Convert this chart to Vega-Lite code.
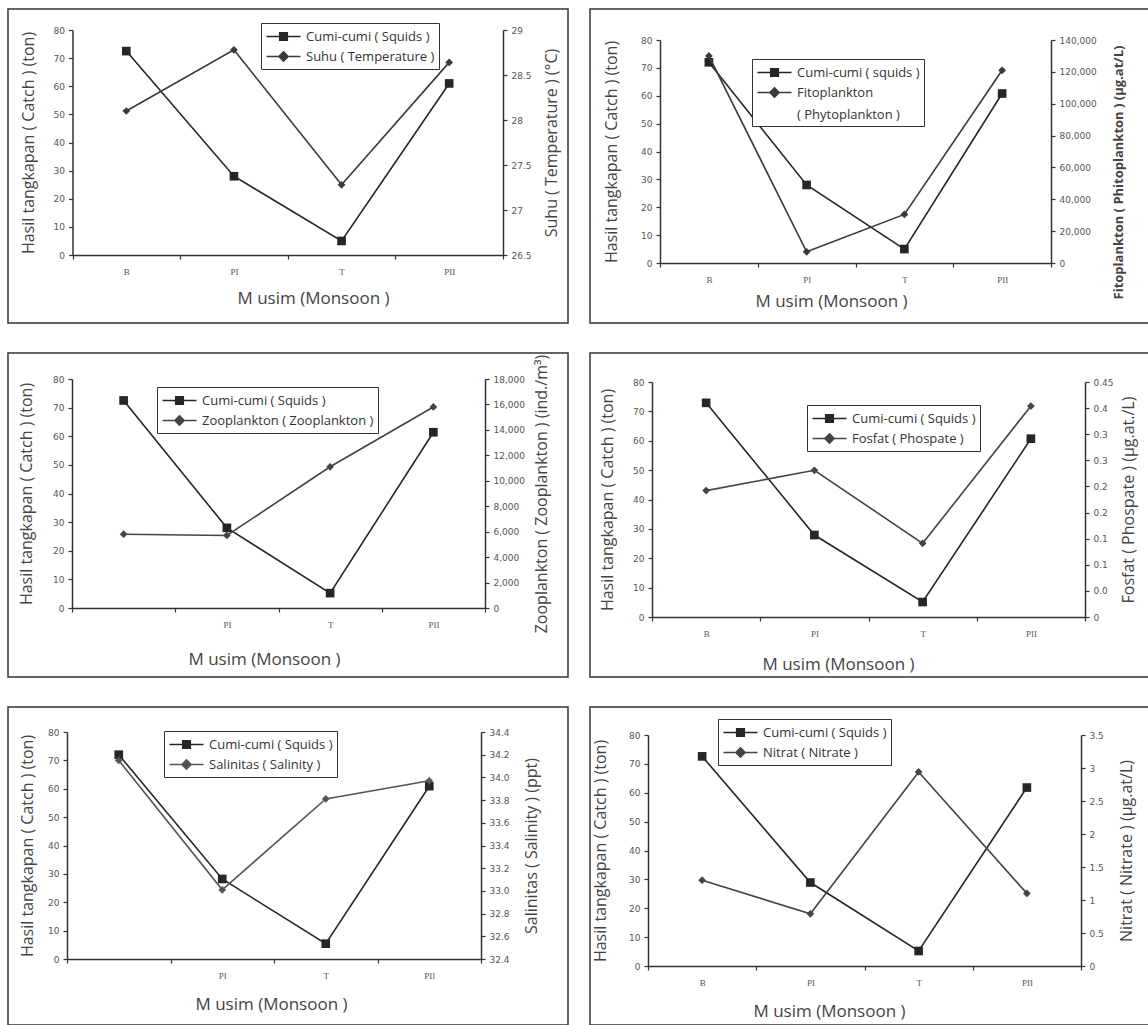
{
  "$schema": "https://vega.github.io/schema/vega-lite/v6.json",
  "background": "white",
  "padding": {"left": 7, "top": 8, "right": 0, "bottom": 0},
  "autosize": {"type": "pad"},
  "columns": 2,
  "spacing": {"row": 30, "column": 22},
  "align": "each",
  "bounds": "flush",
  "resolve": {"scale": {"color": "independent"}, "legend": {"color": "independent"}},
  "config": {
    "font": "Open Sans",
    "view": {"stroke": "#333", "strokeWidth": 1.5},
    "axis": {"grid": false, "domainColor": "#333", "domainWidth": 1.5, "tickColor": "#333", "tickWidth": 1.2, "tickSize": 4, "labelFont": "DejaVu Sans", "labelFontSize": 9, "labelColor": "#555", "labelPadding": 4, "labelOverlap": false, "titleFont": "Open Sans", "titleFontSize": 16, "titleFontWeight": "normal", "titleColor": "#444"},
    "axisX": {"labelPadding": 8, "labelAngle": 0, "labelFont": "Liberation Serif", "labelFontSize": 9, "tickBand": "extent", "titleFontSize": 17, "titleBaseline": "middle"},
    "axisY": {"titleBaseline": "middle", "titleAngle": 270},
    "legend": {"labelFont": "Open Sans", "labelFontSize": 13, "labelColor": "#333", "strokeColor": "#333", "fillColor": "white", "padding": 4, "symbolSize": 289, "symbolStrokeWidth": 1.5, "symbolOffset": 9, "labelOffset": 13, "rowPadding": 3, "labelLimit": 300},
    "line": {"strokeWidth": 1.6}
  },
  "datasets": {
    "temp": [
      {"season": "B", "catch": 72.5, "param": 28.1},
      {"season": "PI", "catch": 28, "param": 28.78},
      {"season": "T", "catch": 5, "param": 27.28},
      {"season": "PII", "catch": 61, "param": 28.64}
    ],
    "phyto": [
      {"season": "B", "catch": 72, "param": 130000},
      {"season": "PI", "catch": 28, "param": 7000},
      {"season": "T", "catch": 5, "param": 30500},
      {"season": "PII", "catch": 60.8, "param": 121000}
    ],
    "zoo": [
      {"season": "B", "catch": 72.5, "param": 5800},
      {"season": "PI", "catch": 28, "param": 5700},
      {"season": "T", "catch": 5.2, "param": 11100},
      {"season": "PII", "catch": 61.4, "param": 15800}
    ],
    "phos": [
      {"season": "B", "catch": 72.9, "param": 0.242},
      {"season": "PI", "catch": 27.9, "param": 0.281},
      {"season": "T", "catch": 5.1, "param": 0.141},
      {"season": "PII", "catch": 60.7, "param": 0.404}
    ],
    "sal": [
      {"season": "B", "catch": 72, "param": 34.15},
      {"season": "PI", "catch": 28.2, "param": 33.01},
      {"season": "T", "catch": 5.4, "param": 33.81},
      {"season": "PII", "catch": 60.9, "param": 33.97}
    ],
    "nit": [
      {"season": "B", "catch": 72.6, "param": 1.3},
      {"season": "PI", "catch": 28.9, "param": 0.79},
      {"season": "T", "catch": 5.2, "param": 2.94},
      {"season": "PII", "catch": 61.8, "param": 1.1}
    ]
  },
  "concat": [
    {
      "width": 560, "height": 314,
      "data": {"name": "temp"},
      "encoding": {
        "x": {"field": "season", "type": "ordinal", "sort": ["B", "PI", "T", "PII"],
          "scale": {"type": "band", "range": [64.5, 495], "paddingInner": 0, "paddingOuter": 0},
          "axis": {"title": "M usim (Monsoon )", "offset": -68, "titleX": 305, "titleY": 43}}
      },
      "layer": [
        {"mark": {"type": "line", "point": {"shape": "square", "size": 75, "filled": true}},
          "encoding": {
            "y": {"field": "catch", "type": "quantitative", "scale": {"domain": [0, 80], "range": [246, 21], "nice": false, "zero": false},
              "axis": {"title": "Hasil tangkapan ( Catch )  (ton)", "values": [0, 10, 20, 30, 40, 50, 60, 70, 80], "offset": -64.5, "titleX": -44}},
            "color": {"datum": "Cumi-cumi ( Squids )", "type": "nominal",
              "scale": {"domain": ["Cumi-cumi ( Squids )", "Suhu ( Temperature )"], "range": ["#262626", "#3a3a3a"]},
              "legend": {"title": null, "orient": "none", "legendX": 253, "legendY": 14,
                "encoding": {"symbols": {"shape": {"value": {"expr": "indexof(datum.value, 'Cumi') >= 0 ? 'M-2,0H2M-0.45,-0.45H0.45V0.45H-0.45Z' : 'M-2,0H2M0,-0.55L0.55,0L0,0.55L-0.55,0Z'"}}, "fill": {"value": "#333"}, "stroke": {"value": "#333"}, "size": {"value": 289}, "strokeWidth": {"value": 1.5}}}}}
          }},
        {"mark": {"type": "line", "point": {"shape": "diamond", "size": 60, "filled": true}},
          "encoding": {
            "y": {"field": "param", "type": "quantitative", "scale": {"domain": [26.5, 29], "range": [246, 21], "nice": false, "zero": false},
              "axis": {"orient": "right", "title": "Suhu ( Temperature )  (°C)", "values": [26.5, 27, 27.5, 28, 28.5, 29], "format": "~f", "offset": -65, "titleX": 48}},
            "color": {"datum": "Suhu ( Temperature )", "type": "nominal"}
          }}
      ],
      "resolve": {"scale": {"y": "independent"}, "axis": {"y": "independent"}}
    },
    {
      "width": 559, "height": 314,
      "data": {"name": "phyto"},
      "encoding": {
        "x": {"field": "season", "type": "ordinal", "sort": ["B", "PI", "T", "PII"],
          "scale": {"type": "band", "range": [70, 461], "paddingInner": 0, "paddingOuter": 0},
          "axis": {"title": "M usim (Monsoon )", "offset": -60, "titleX": 241, "titleY": 38}}
      },
      "layer": [
        {"mark": {"type": "line", "point": {"shape": "square", "size": 75, "filled": true}},
          "encoding": {
            "y": {"field": "catch", "type": "quantitative", "scale": {"domain": [0, 80], "range": [254, 31], "nice": false, "zero": false},
              "axis": {"title": "Hasil tangkapan ( Catch )  (ton)", "values": [0, 10, 20, 30, 40, 50, 60, 70, 80], "offset": -70, "titleX": -49}},
            "color": {"datum": "Cumi-cumi ( squids )", "type": "nominal",
              "scale": {"domain": ["Cumi-cumi ( squids )", "Fitoplankton ( Phytoplankton )"], "range": ["#262626", "#3a3a3a"]},
              "legend": {"title": null, "orient": "none", "legendX": 162, "legendY": 50,
                "labelExpr": "datum.label == 'Fitoplankton ( Phytoplankton )' ? ['Fitoplankton', '( Phytoplankton )'] : datum.label",
                "encoding": {"labels": {"lineHeight": {"value": 22}}, "symbols": {"shape": {"value": {"expr": "indexof(datum.value, 'Cumi') >= 0 ? 'M-2,0H2M-0.45,-0.45H0.45V0.45H-0.45Z' : 'M-2,0H2M0,-0.55L0.55,0L0,0.55L-0.55,0Z'"}}, "fill": {"value": "#333"}, "stroke": {"value": "#333"}, "size": {"value": 289}, "strokeWidth": {"value": 1.5}}}}}
          }},
        {"mark": {"type": "line", "point": {"shape": "diamond", "size": 60, "filled": true}},
          "encoding": {
            "y": {"field": "param", "type": "quantitative", "scale": {"domain": [0, 140000], "range": [254, 31], "nice": false, "zero": false},
              "axis": {"orient": "right", "title": "Fitoplankton ( Phitoplankton ) (µg.at/L)", "titleFontWeight": "bold", "titleFontSize": 13, "values": [0, 20000, 40000, 60000, 80000, 100000, 120000, 140000], "format": ",.0f", "offset": -98, "titleX": 67, "titleY": 163}},
            "color": {"datum": "Fitoplankton ( Phytoplankton )", "type": "nominal"}
          }}
      ],
      "resolve": {"scale": {"y": "independent"}, "axis": {"y": "independent"}}
    },
    {
      "width": 560, "height": 324,
      "data": {"name": "zoo"},
      "encoding": {
        "x": {"field": "season", "type": "ordinal", "sort": ["B", "PI", "T", "PII"],
          "scale": {"type": "band", "range": [64, 477], "paddingInner": 0, "paddingOuter": 0},
          "axis": {"title": "M usim (Monsoon )", "offset": -69, "titleX": 256, "titleY": 51, "labelExpr": "datum.value == 'B' ? '' : datum.value"}}
      },
      "layer": [
        {"mark": {"type": "line", "point": {"shape": "square", "size": 75, "filled": true}},
          "encoding": {
            "y": {"field": "catch", "type": "quantitative", "scale": {"domain": [0, 80], "range": [255, 26], "nice": false, "zero": false},
              "axis": {"title": "Hasil tangkapan ( Catch )  (ton)", "values": [0, 10, 20, 30, 40, 50, 60, 70, 80], "offset": -64, "titleX": -46}},
            "color": {"datum": "Cumi-cumi ( Squids )", "type": "nominal",
              "scale": {"domain": ["Cumi-cumi ( Squids )", "Zooplankton ( Zooplankton )"], "range": ["#262626", "#444444"]},
              "legend": {"title": null, "orient": "none", "legendX": 149, "legendY": 34,
                "encoding": {"symbols": {"shape": {"value": {"expr": "indexof(datum.value, 'Cumi') >= 0 ? 'M-2,0H2M-0.45,-0.45H0.45V0.45H-0.45Z' : 'M-2,0H2M0,-0.55L0.55,0L0,0.55L-0.55,0Z'"}}, "fill": {"value": "#333"}, "stroke": {"value": "#333"}, "size": {"value": 289}, "strokeWidth": {"value": 1.5}}}}}
          }},
        {"mark": {"type": "line", "point": {"shape": "diamond", "size": 60, "filled": true}},
          "encoding": {
            "y": {"field": "param", "type": "quantitative", "scale": {"domain": [0, 18000], "range": [255, 26], "nice": false, "zero": false},
              "axis": {"orient": "right", "title": "Zooplankton ( Zooplankton )  (ind./m³)", "values": [0, 2000, 4000, 6000, 8000, 10000, 12000, 14000, 16000, 18000], "format": ",.0f", "offset": -83, "titleX": 56}},
            "color": {"datum": "Zooplankton ( Zooplankton )", "type": "nominal"}
          }}
      ],
      "resolve": {"scale": {"y": "independent"}, "axis": {"y": "independent"}}
    },
    {
      "width": 559, "height": 324,
      "data": {"name": "phos"},
      "encoding": {
        "x": {"field": "season", "type": "ordinal", "sort": ["B", "PI", "T", "PII"],
          "scale": {"type": "band", "range": [62, 495], "paddingInner": 0, "paddingOuter": 0},
          "axis": {"title": "M usim (Monsoon )", "offset": -60, "titleX": 248, "titleY": 47}}
      },
      "layer": [
        {"mark": {"type": "line", "point": {"shape": "square", "size": 75, "filled": true}},
          "encoding": {
            "y": {"field": "catch", "type": "quantitative", "scale": {"domain": [0, 80], "range": [264, 29], "nice": false, "zero": false},
              "axis": {"title": "Hasil tangkapan ( Catch )  (ton)", "values": [0, 10, 20, 30, 40, 50, 60, 70, 80], "offset": -62, "titleX": -45}},
            "color": {"datum": "Cumi-cumi ( Squids )", "type": "nominal",
              "scale": {"domain": ["Cumi-cumi ( Squids )", "Fosfat ( Phospate )"], "range": ["#262626", "#444444"]},
              "legend": {"title": null, "orient": "none", "legendX": 217, "legendY": 52,
                "encoding": {"symbols": {"shape": {"value": {"expr": "indexof(datum.value, 'Cumi') >= 0 ? 'M-2,0H2M-0.45,-0.45H0.45V0.45H-0.45Z' : 'M-2,0H2M0,-0.55L0.55,0L0,0.55L-0.55,0Z'"}}, "fill": {"value": "#333"}, "stroke": {"value": "#333"}, "size": {"value": 289}, "strokeWidth": {"value": 1.5}}}}}
          }},
        {"mark": {"type": "line", "point": {"shape": "diamond", "size": 60, "filled": true}},
          "encoding": {
            "y": {"field": "param", "type": "quantitative", "scale": {"domain": [0, 0.45], "range": [264, 29], "nice": false, "zero": false},
              "axis": {"orient": "right", "title": "Fosfat ( Phospate ) (µg.at./L)", "values": [0, 0.05, 0.1, 0.15, 0.2, 0.25, 0.3, 0.35, 0.4, 0.45],
                "labelExpr": "datum.value > 0.44 ? '0.45' : datum.value == 0 ? '0' : format(floor(datum.value * 10 + 0.001) / 10, '.1f')", "offset": -64, "titleX": 43}},
            "color": {"datum": "Fosfat ( Phospate )", "type": "nominal"}
          }}
      ],
      "resolve": {"scale": {"y": "independent"}, "axis": {"y": "independent"}}
    },
    {
      "width": 560, "height": 318,
      "data": {"name": "sal"},
      "encoding": {
        "x": {"field": "season", "type": "ordinal", "sort": ["B", "PI", "T", "PII"],
          "scale": {"type": "band", "range": [59, 473], "paddingInner": 0, "paddingOuter": 0},
          "axis": {"title": "M usim (Monsoon )", "offset": -66, "titleX": 263, "titleY": 45, "labelExpr": "datum.value == 'B' ? '' : datum.value"}}
      },
      "layer": [
        {"mark": {"type": "line", "point": {"shape": "square", "size": 75, "filled": true}},
          "encoding": {
            "y": {"field": "catch", "type": "quantitative", "scale": {"domain": [0, 80], "range": [252, 25], "nice": false, "zero": false},
              "axis": {"title": "Hasil tangkapan ( Catch )  (ton)", "values": [0, 10, 20, 30, 40, 50, 60, 70, 80], "offset": -59, "titleX": -40}},
            "color": {"datum": "Cumi-cumi ( Squids )", "type": "nominal",
              "scale": {"domain": ["Cumi-cumi ( Squids )", "Salinitas ( Salinity )"], "range": ["#262626", "#555555"]},
              "legend": {"title": null, "orient": "none", "legendX": 156, "legendY": 24,
                "encoding": {"symbols": {"shape": {"value": {"expr": "indexof(datum.value, 'Cumi') >= 0 ? 'M-2,0H2M-0.45,-0.45H0.45V0.45H-0.45Z' : 'M-2,0H2M0,-0.55L0.55,0L0,0.55L-0.55,0Z'"}}, "fill": {"value": "#333"}, "stroke": {"value": "#333"}, "size": {"value": 289}, "strokeWidth": {"value": 1.5}}}}}
          }},
        {"mark": {"type": "line", "point": {"shape": "diamond", "size": 60, "filled": true}},
          "encoding": {
            "y": {"field": "param", "type": "quantitative", "scale": {"domain": [32.4, 34.4], "range": [252, 25], "nice": false, "zero": false},
              "axis": {"orient": "right", "title": "Salinitas ( Salinity )  (ppt)", "values": [32.4, 32.6, 32.8, 33.0, 33.2, 33.4, 33.6, 33.8, 34.0, 34.2, 34.4], "format": ".1f", "offset": -87, "titleX": 50}},
            "color": {"datum": "Salinitas ( Salinity )", "type": "nominal"}
          }}
      ],
      "resolve": {"scale": {"y": "independent"}, "axis": {"y": "independent"}}
    },
    {
      "width": 559, "height": 318,
      "data": {"name": "nit"},
      "encoding": {
        "x": {"field": "season", "type": "ordinal", "sort": ["B", "PI", "T", "PII"],
          "scale": {"type": "band", "range": [58, 491], "paddingInner": 0, "paddingOuter": 0},
          "axis": {"title": "M usim (Monsoon )", "offset": -59, "titleX": 239, "titleY": 45}}
      },
      "layer": [
        {"mark": {"type": "line", "point": {"shape": "square", "size": 75, "filled": true}},
          "encoding": {
            "y": {"field": "catch", "type": "quantitative", "scale": {"domain": [0, 80], "range": [259, 28], "nice": false, "zero": false},
              "axis": {"title": "Hasil tangkapan ( Catch )  (ton)", "values": [0, 10, 20, 30, 40, 50, 60, 70, 80], "offset": -58, "titleX": -48}},
            "color": {"datum": "Cumi-cumi ( Squids )", "type": "nominal",
              "scale": {"domain": ["Cumi-cumi ( Squids )", "Nitrat ( Nitrate )"], "range": ["#262626", "#444444"]},
              "legend": {"title": null, "orient": "none", "legendX": 128, "legendY": 12,
                "encoding": {"symbols": {"shape": {"value": {"expr": "indexof(datum.value, 'Cumi') >= 0 ? 'M-2,0H2M-0.45,-0.45H0.45V0.45H-0.45Z' : 'M-2,0H2M0,-0.55L0.55,0L0,0.55L-0.55,0Z'"}}, "fill": {"value": "#333"}, "stroke": {"value": "#333"}, "size": {"value": 289}, "strokeWidth": {"value": 1.5}}}}}
          }},
        {"mark": {"type": "line", "point": {"shape": "diamond", "size": 60, "filled": true}},
          "encoding": {
            "y": {"field": "param", "type": "quantitative", "scale": {"domain": [0, 3.5], "range": [259, 28], "nice": false, "zero": false},
              "axis": {"orient": "right", "title": "Nitrat ( Nitrate )  (µg.at/L)", "values": [0, 0.5, 1, 1.5, 2, 2.5, 3, 3.5], "format": "~f", "offset": -68, "titleX": 45}},
            "color": {"datum": "Nitrat ( Nitrate )", "type": "nominal"}
          }}
      ],
      "resolve": {"scale": {"y": "independent"}, "axis": {"y": "independent"}}
    }
  ]
}
